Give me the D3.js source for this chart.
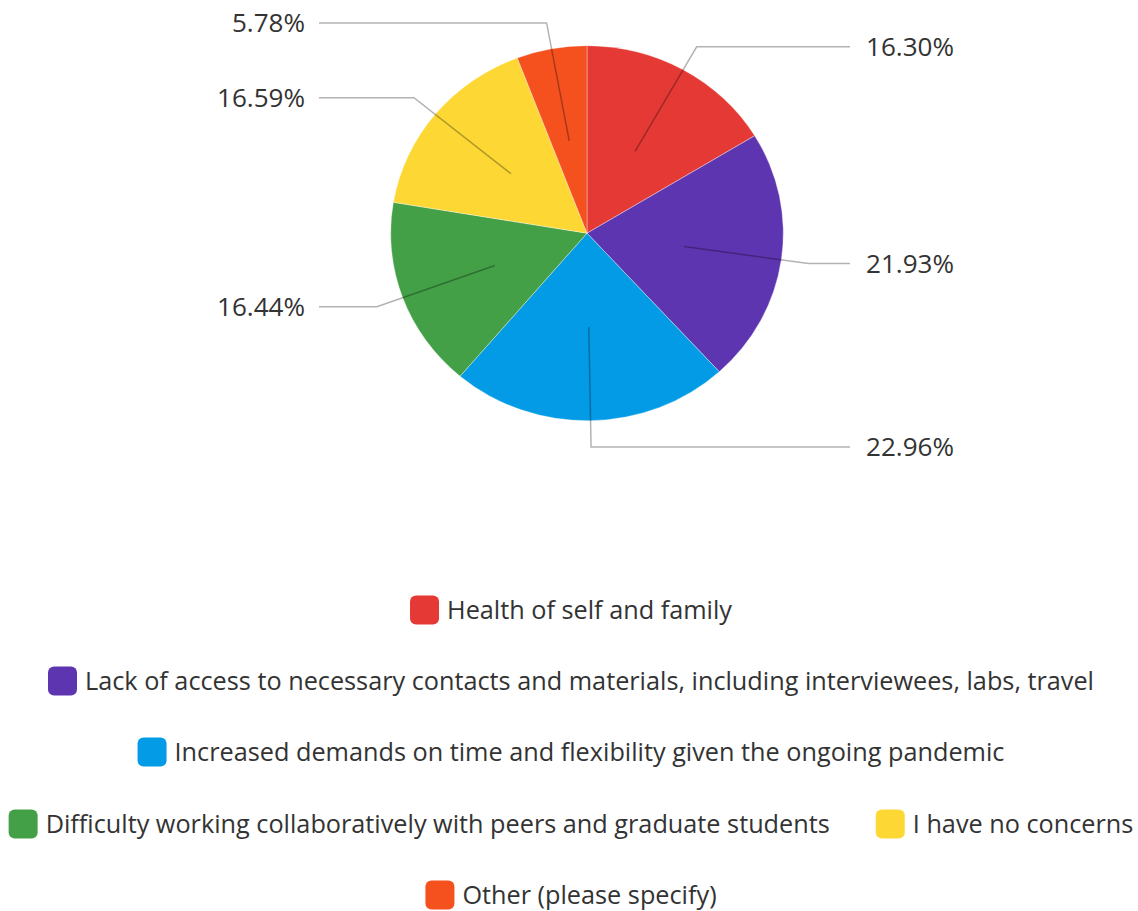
<!DOCTYPE html>
<html>
<head>
<meta charset="utf-8">
<script src="https://cdn.jsdelivr.net/npm/d3@7"></script>
<style>
  html, body { margin: 0; padding: 0; background: #fff; }
  svg { display: block; }
  text { font-family: "Open Sans", Lato, sans-serif; fill: #333; }
</style>
</head>
<body>
<svg id="chart" width="1138" height="911"></svg>
<script>
// Survey responses: share of each concern (percent)
const categories = [
  "Health of self and family",
  "Lack of access to necessary contacts and materials, including interviewees, labs, travel",
  "Increased demands on time and flexibility given the ongoing pandemic",
  "Difficulty working collaboratively with peers and graduate students",
  "I have no concerns",
  "Other (please specify)"
];
const values = [16.30, 21.93, 22.96, 16.44, 16.59, 5.78];
const colors = ["#E53935", "#5E35B1", "#039BE5", "#43A047", "#FDD835", "#F4511E"];
// legend rows (indices into categories)
const legendRows = [[0], [1], [2], [3, 4], [5]];

const svg = d3.select("#chart");

// font size giving a string a wanted width
function fitSize(str, width) {
  const t = svg.append("text").attr("font-size", 100).text(str);
  const w = t.node().getComputedTextLength();
  t.remove();
  return 100 * width / w;
}
const legendFs = fitSize(categories[1], 1009);
const labelFs = fitSize("16.30%", 88);

const cx = 587, cy = 233.2;
const rx = 196.3, ry = 187.5;       // pie is drawn slightly flattened
const sy = ry / rx;

const pie = d3.pie().sort(null).value(d => d.value);
const data = pie(categories.map((c, i) => ({ name: c, value: values[i], color: colors[i] })));

const arc = d3.arc().innerRadius(0).outerRadius(rx);

const pieG = svg.append("g").attr("transform", `translate(${cx},${cy}) scale(1,${sy})`);
pieG.selectAll("path")
  .data(data)
  .join("path")
  .attr("d", arc)
  .attr("fill", d => d.data.color)
  .attr("stroke", "#fff")
  .attr("stroke-width", 0.6)
  .attr("stroke-opacity", 0.6);

// map a polar point (angle from 12 o'clock, clockwise) into page coordinates
function pt(angle, r) {
  return [cx + r * Math.sin(angle), cy - r * Math.cos(angle) * sy];
}

const innerR = rx * 0.5;
const bendR = rx * 1.14;
const rightX = 850, leftX = 319;

const labels = svg.append("g");
data.forEach(d => {
  const mid = (d.startAngle + d.endAngle) / 2;
  const p0 = pt(mid, innerR);
  const p1 = pt(mid, bendR);
  const right = Math.sin(mid) >= 0;
  const endX = right ? rightX : leftX;
  labels.append("polyline")
    .attr("points", [p0, p1, [endX, p1[1]]].map(p => p.join(",")).join(" "))
    .attr("fill", "none")
    .attr("stroke", "#000")
    .attr("stroke-opacity", 0.3)
    .attr("stroke-width", 1.5);
  labels.append("text")
    .attr("x", right ? endX + 16 : endX - 14)
    .attr("y", p1[1] + 9)
    .attr("text-anchor", right ? "start" : "end")
    .attr("font-size", labelFs)
    .text(d3.format(".2f")(d.data.value) + "%");
});

// legend
const legend = svg.append("g");
const sw = 29, gap = 8, itemGap = 46;
const legendCx = 571;
const rowY = [610, 681, 752, 824, 895];

legendRows.forEach((row, ri) => {
  const g = legend.append("g");
  let x = 0;
  row.forEach((idx, k) => {
    if (k > 0) x += itemGap;
    g.append("rect")
      .attr("x", x).attr("y", -sw / 2)
      .attr("width", sw).attr("height", sw)
      .attr("rx", 6)
      .attr("fill", colors[idx]);
    const t = g.append("text")
      .attr("x", x + sw + gap)
      .attr("y", 9)
      .attr("font-size", legendFs)
      .attr("fill", "#3d3d3d")
      .text(categories[idx]);
    x += sw + gap + t.node().getComputedTextLength();
  });
  g.attr("transform", `translate(${legendCx - x / 2},${rowY[ri]})`);
});
</script>
</body>
</html>
